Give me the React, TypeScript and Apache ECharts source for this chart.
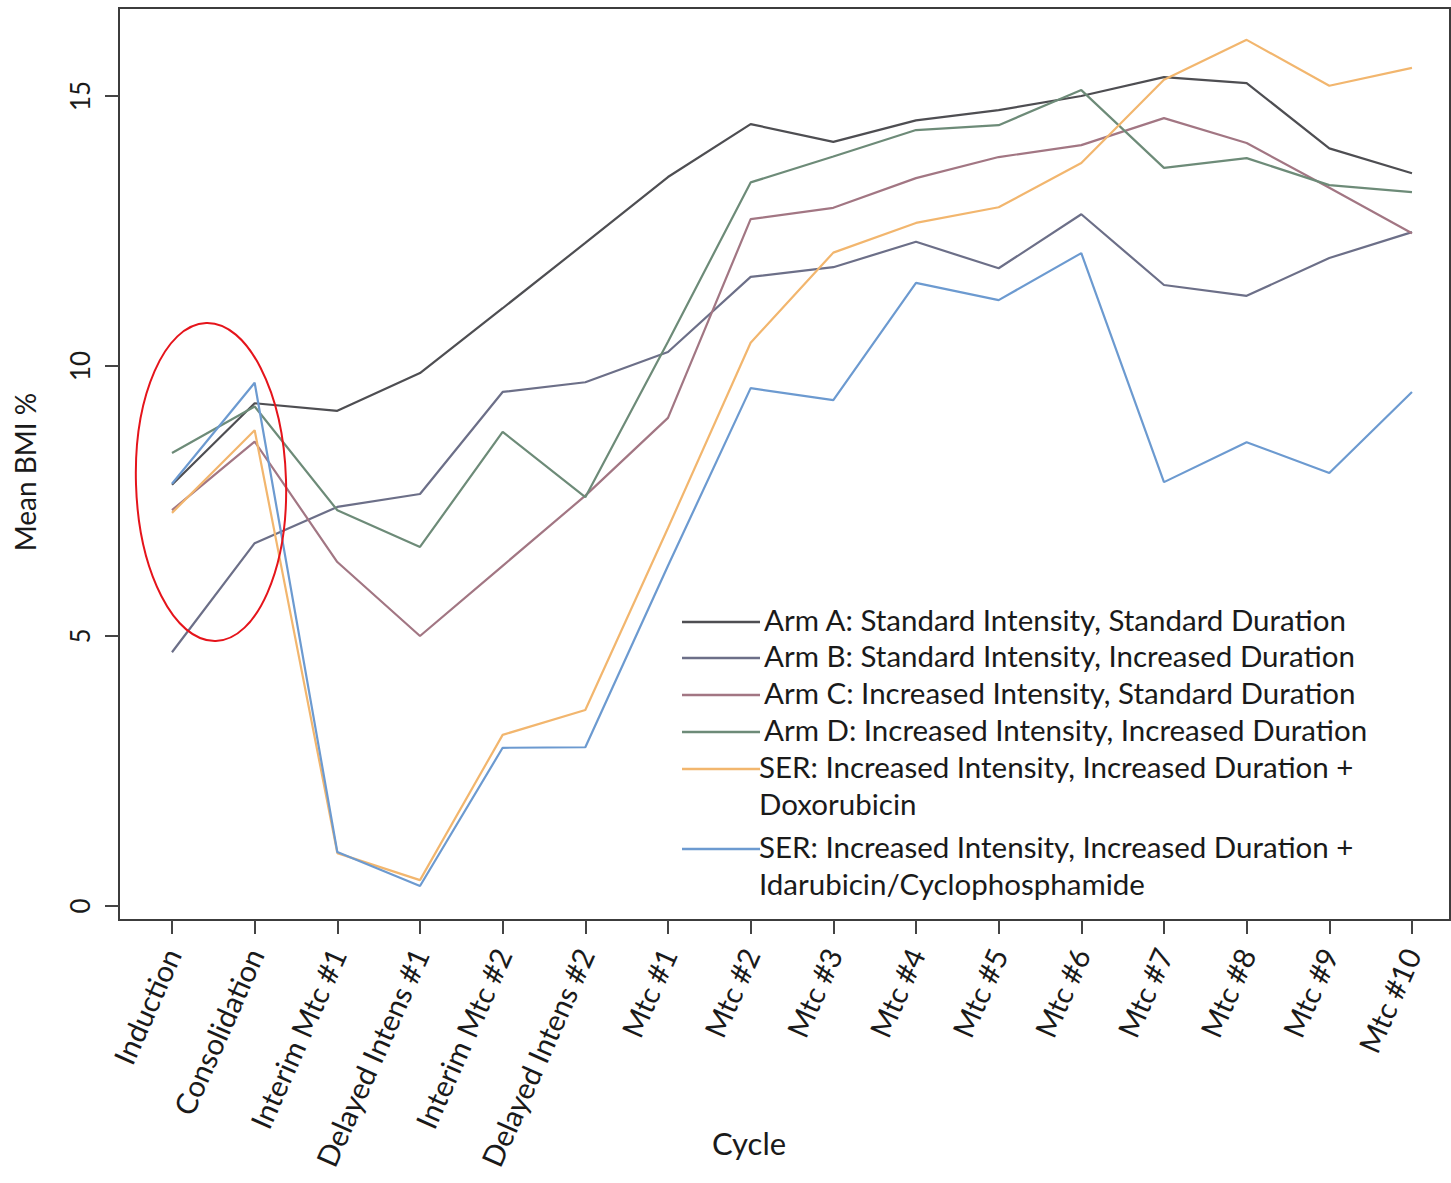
import React, { useEffect, useRef } from "react";
import * as echarts from "echarts";

// Treatment cycles along the x axis
const categories = [
  "Induction",
  "Consolidation",
  "Interim Mtc #1",
  "Delayed Intens #1",
  "Interim Mtc #2",
  "Delayed Intens #2",
  "Mtc #1",
  "Mtc #2",
  "Mtc #3",
  "Mtc #4",
  "Mtc #5",
  "Mtc #6",
  "Mtc #7",
  "Mtc #8",
  "Mtc #9",
  "Mtc #10",
];

const yTicks = [0, 5, 10, 15];

// Mean BMI % per cycle for each arm
const armA = [7.8, 9.31, 9.17, 9.87, 11.07, 12.28, 13.5, 14.48, 14.15, 14.55, 14.74, 15.0, 15.35, 15.24, 14.03, 13.57];
const armB = [4.7, 6.72, 7.39, 7.63, 9.52, 9.7, 10.26, 11.65, 11.83, 12.3, 11.81, 12.81, 11.5, 11.3, 12.0, 12.48];
const armC = [7.33, 8.6, 6.37, 5.0, 6.3, 7.6, 9.04, 12.72, 12.93, 13.48, 13.87, 14.09, 14.59, 14.13, 13.3, 12.46];
const armD = [8.39, 9.25, 7.33, 6.65, 8.78, 7.57, 10.45, 13.4, 13.88, 14.37, 14.46, 15.11, 13.67, 13.85, 13.35, 13.22];
const serDoxo = [7.28, 8.81, 0.98, 0.48, 3.17, 3.63, 7.0, 10.43, 12.1, 12.65, 12.94, 13.76, 15.3, 16.04, 15.19, 15.52];
const serIda = [7.82, 9.69, 1.0, 0.37, 2.93, 2.94, 6.3, 9.59, 9.37, 11.54, 11.22, 12.09, 7.85, 8.59, 8.02, 9.52];

const seriesNames = [
  "Arm A: Standard Intensity, Standard Duration",
  "Arm B: Standard Intensity, Increased Duration",
  "Arm C: Increased Intensity, Standard Duration",
  "Arm D: Increased Intensity, Increased Duration",
  "SER: Increased Intensity, Increased Duration +\nDoxorubicin",
  "SER: Increased Intensity, Increased Duration +\nIdarubicin/Cyclophosphamide",
];
const seriesValues = [armA, armB, armC, armD, serDoxo, serIda];
const seriesColors = ["#4e4e52", "#6c6f88", "#a27683", "#6d8b78", "#f2b66e", "#6c9ad0"];

const FONT = 'Lato, "Open Sans", "DejaVu Sans", sans-serif';
const TEXT = "#1a1a1a";

export default function App() {
  const ref = useRef<HTMLDivElement>(null);

  useEffect(() => {
    if (!ref.current) return;
    const chart = echarts.init(ref.current, null, { renderer: "svg" });
    const idx = categories.map((_, i) => i);

    // Inline legend: a short line sample followed by the label
    const legendRows = [620, 656, 693, 730, 767, 847];
    const legendGraphics: any[] = [];
    seriesNames.forEach((name, i) => {
      const y = legendRows[i];
      legendGraphics.push({
        type: "line",
        shape: { x1: 682, y1: y + 2, x2: 760, y2: y + 2 },
        style: { stroke: seriesColors[i], lineWidth: 2.5 },
        z: 10,
      });
      legendGraphics.push({
        type: "text",
        x: i < 4 ? 764 : 759,
        y: y - 19,
        style: {
          text: name,
          font: `29.5px ${FONT}`,
          fill: TEXT,
          textVerticalAlign: "top",
          lineHeight: 37,
        },
        z: 10,
      });
    });

    const tickStyle = { color: "#444", width: 2 };

    chart.setOption({
      animation: false,
      backgroundColor: "#ffffff",
      grid: {
        left: 119,
        top: 8,
        width: 1331,
        height: 912,
        show: true,
        borderColor: "#3c3c3c",
        borderWidth: 2,
        backgroundColor: "#ffffff",
      },
      xAxis: {
        type: "value",
        min: -0.641,
        max: 15.46,
        axisLine: { show: false, onZero: false },
        splitLine: { show: false },
        axisTick: {
          show: true,
          inside: false,
          customValues: idx,
          length: 14,
          lineStyle: tickStyle,
        },
        axisLabel: {
          customValues: idx,
          formatter: (v: number) => categories[Math.round(v)],
          rotate: 66,
          fontSize: 29.5,
          fontFamily: FONT,
          color: TEXT,
          margin: 30,
        },
      },
      yAxis: {
        type: "value",
        min: -0.259,
        max: 16.63,
        axisLine: { show: false, onZero: false },
        splitLine: { show: false },
        axisTick: {
          show: true,
          inside: false,
          customValues: yTicks,
          length: 14,
          lineStyle: tickStyle,
        },
        axisLabel: {
          customValues: yTicks,
          rotate: 90,
          fontSize: 26,
          fontFamily: FONT,
          color: TEXT,
          margin: 26,
        },
      },
      series: seriesValues.map((vals, i) => ({
        type: "line",
        name: seriesNames[i],
        data: vals.map((v, j) => [j, v]),
        showSymbol: false,
        lineStyle: { color: seriesColors[i], width: 2.2 },
        itemStyle: { color: seriesColors[i] },
        z: 2 + i,
      })),
      graphic: [
        {
          type: "text",
          x: 25,
          y: 472,
          rotation: Math.PI / 2,
          style: {
            text: "Mean BMI %",
            font: `28px ${FONT}`,
            fill: TEXT,
            textAlign: "center",
            textVerticalAlign: "middle",
          },
        },
        {
          type: "text",
          x: 749,
          y: 1143,
          style: {
            text: "Cycle",
            font: `31px ${FONT}`,
            fill: TEXT,
            textAlign: "center",
            textVerticalAlign: "middle",
          },
        },
        {
          type: "ellipse",
          x: 211,
          y: 482,
          rotation: 0.03,
          shape: { cx: 0, cy: 0, rx: 75, ry: 159 },
          style: { fill: "transparent", stroke: "#e5141b", lineWidth: 2 },
          z: 20,
        },
        ...legendGraphics,
      ],
    });

    return () => chart.dispose();
  }, []);

  return (
    <div
      ref={ref}
      style={{ position: "fixed", left: 0, top: 0, width: 1451, height: 1183 }}
    />
  );
}
